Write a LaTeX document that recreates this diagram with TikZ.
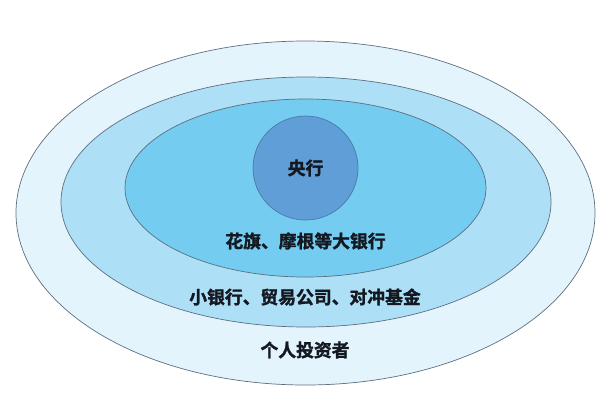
\documentclass[tikz,border=0pt]{standalone}
\usepackage{fontspec}
\newfontfamily\cjk{Noto Sans CJK SC Bold}[FakeBold=1.6]
\usetikzlibrary{shapes.geometric}
\definecolor{ringA}{HTML}{E4F4FC}
\definecolor{ringB}{HTML}{ADE0F6}
\definecolor{ringC}{HTML}{74CCF0}
\definecolor{core}{HTML}{5F9ED6}
\definecolor{edgeline}{HTML}{5D6F80}
\definecolor{coreline}{HTML}{4A7AA8}
\definecolor{txt}{HTML}{141820}
\tikzset{
  ring/.style={ellipse, draw=edgeline, line width=0.7pt, inner sep=0pt},
  lbl/.style={font=\cjk\fontsize{17.8}{20}\selectfont, text=txt, inner sep=0pt}
}
\begin{document}
\begin{tikzpicture}[x=1pt,y=-1pt]
\useasboundingbox[fill=white] (0,0) rectangle (612,413);
\node[ring, fill=ringA, minimum width=579pt, minimum height=344pt] (outer) at (305.5,213) {};
\node[ring, fill=ringB, minimum width=490pt, minimum height=250pt] (middle) at (306,202) {};
\node[ring, fill=ringC, minimum width=361pt, minimum height=178pt] (inner) at (305.5,188) {};
\node[ring, draw=coreline, fill=core, minimum width=105pt, minimum height=104pt] (core) at (305.5,168) {};
\node[lbl] (tcore) at (305.5,168) {央行};
\node[lbl] (tinner) at (305.5,241) {花旗、摩根等大银行};
\node[lbl] (tmiddle) at (305,297) {小银行、贸易公司、对冲基金};
\node[lbl] (touter) at (305,350) {个人投资者};
\end{tikzpicture}
\end{document}
